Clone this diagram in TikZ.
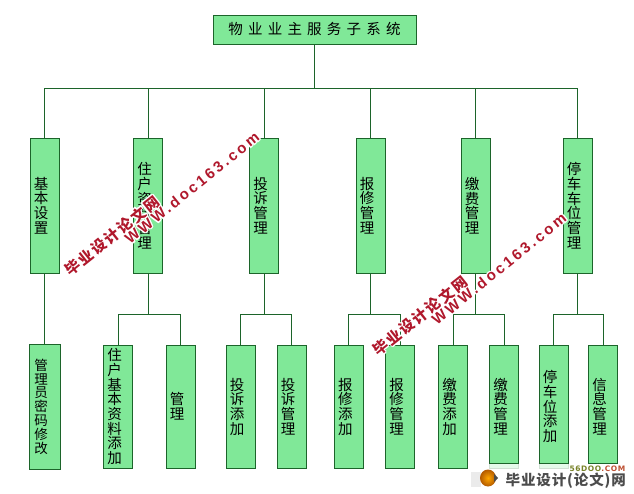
\documentclass[tikz,border=0pt]{standalone}
\usepackage{fontspec}
\setmainfont{Liberation Sans}
\newfontfamily\cjk{Noto Sans CJK SC}
\newfontfamily\cjktitle[LetterSpace=36]{Noto Sans CJK SC}
\newfontfamily\wmcjk[LetterSpace=12]{Noto Sans CJK SC}
\newfontfamily\wmlat[LetterSpace=18]{Liberation Sans}
\newfontfamily\logofont[LetterSpace=6]{Noto Sans CJK SC}
\newfontfamily\logolat[LetterSpace=8]{DejaVu Sans}
\definecolor{boxfill}{RGB}{128,232,152}
\definecolor{boxline}{RGB}{28,100,42}
\definecolor{wmred}{RGB}{176,24,44}
\definecolor{logogreen}{RGB}{120,130,40}
\definecolor{logored}{RGB}{190,80,50}
\newcommand{\hc}[3]{\rlap{\hspace{#1}\raisebox{#2}{\textcolor{white}{#3}}}}
\newcommand{\halo}[1]{\hc{-1.3pt}{0pt}{#1}\hc{1.3pt}{0pt}{#1}\hc{0pt}{1.3pt}{#1}\hc{0pt}{-1.3pt}{#1}\hc{-1pt}{-1pt}{#1}\hc{1pt}{1pt}{#1}\hc{-1pt}{1pt}{#1}\hc{1pt}{-1pt}{#1}\textcolor{wmred}{#1}}
\newcommand{\vtext}[1]{\kern-7pt\raisebox{1.5pt}{\vbox{\lineskiplimit=-100pt\halign{\hfil##\hfil\cr#1\cr}}}}
\tikzset{
  gbox/.style={draw=boxline,fill=boxfill,line width=0.9pt,inner sep=0pt,align=center,
     font=\cjk\fontsize{14.5}{14.7}\selectfont},
  lvtwo/.style={gbox,minimum width=29pt,minimum height=135pt},
  lvthree/.style={gbox,minimum width=29pt,minimum height=123pt},
  conn/.style={draw=boxline,line width=0.9pt},
  wmtxt/.style={inner sep=0pt},
}
\begin{document}
\begin{tikzpicture}[x=1pt,y=-1pt]
\useasboundingbox[fill=white] (0,0) rectangle (634,494);
\coordinate (bus) at (314.5,88);
\coordinate (s2) at (148,314.5);
\coordinate (s3) at (264,314.5);
\coordinate (s4) at (370.5,314.5);
\coordinate (s5) at (475.5,314.5);
\coordinate (s6) at (577.5,314.5);

\node[gbox,minimum width=203pt,minimum height=29pt,font=\cjktitle\fontsize{14.5}{15}\selectfont] (top) at (314.5,29.5) {\raisebox{1.5pt}{物业业主服务子系统}};

\node[lvtwo] (b1) at (44.5,206) {\vtext{基\cr 本\cr 设\cr 置}};
\node[lvtwo] (b2) at (148,206) {\vtext{住\cr 户\cr 资\cr 料\cr 管\cr 理}};
\node[lvtwo] (b3) at (264,206) {\vtext{投\cr 诉\cr 管\cr 理}};
\node[lvtwo] (b4) at (370.5,206) {\vtext{报\cr 修\cr 管\cr 理}};
\node[lvtwo] (b5) at (475.5,206) {\vtext{缴\cr 费\cr 管\cr 理}};
\node[lvtwo] (b6) at (577.5,206) {\vtext{停\cr 车\cr 车\cr 位\cr 管\cr 理}};

\node[lvthree,minimum width=31pt,minimum height=125pt,font=\cjk\fontsize{13.5}{13.8}\selectfont] (c1) at (44.5,406.8) {\vtext{管\cr 理\cr 员\cr 密\cr 码\cr 修\cr 改}};
\node[lvthree] (c2) at (118,406.8) {\vtext{住\cr 户\cr 基\cr 本\cr 资\cr 料\cr 添\cr 加}};
\node[lvthree] (c3) at (180.5,406.8) {\vtext{管\cr 理}};
\node[lvthree] (c4) at (240.5,406.8) {\vtext{投\cr 诉\cr 添\cr 加}};
\node[lvthree] (c5) at (291.5,406.8) {\vtext{投\cr 诉\cr 管\cr 理}};
\node[lvthree] (c6) at (348.8,406.8) {\vtext{报\cr 修\cr 添\cr 加}};
\node[lvthree] (c7) at (400,406.8) {\vtext{报\cr 修\cr 管\cr 理}};
\node[lvthree] (c8) at (453,406.8) {\vtext{缴\cr 费\cr 添\cr 加}};
\node[lvthree] (c9) at (504,406.8) {\vtext{缴\cr 费\cr 管\cr 理}};
\node[lvthree] (c10) at (553.5,406.8) {\vtext{停\cr 车\cr 位\cr 添\cr 加}};
\node[lvthree] (c11) at (603,406.8) {\vtext{信\cr 息\cr 管\cr 理}};

\draw[conn] (top.south) -- (bus);
\foreach \n in {b1,b2,b3,b4,b5,b6} \draw[conn] (\n.north) |- (bus);
\draw[conn] (b1.south) -- (c1.north);
\draw[conn] (b2.south) -- (s2);
\draw[conn] (c2.north) |- (s2);
\draw[conn] (c3.north) |- (s2);
\draw[conn] (b3.south) -- (s3);
\draw[conn] (c4.north) |- (s3);
\draw[conn] (c5.north) |- (s3);
\draw[conn] (b4.south) -- (s4);
\draw[conn] (c6.north) |- (s4);
\draw[conn] (c7.north) |- (s4);
\draw[conn] (b5.south) -- (s5);
\draw[conn] (c8.north) |- (s5);
\draw[conn] (c9.north) |- (s5);
\draw[conn] (b6.south) -- (s6);
\draw[conn] (c10.north) |- (s6);
\draw[conn] (c11.north) |- (s6);

% watermarks
\node[wmtxt,rotate=38.5,font=\wmcjk\bfseries\fontsize{15}{16}\selectfont] (w1) at (112,236) {\halo{毕业设计论文网}};
\node[wmtxt,rotate=39,font=\wmlat\bfseries\fontsize{15}{16}\selectfont] (w2) at (192,188) {\halo{WWW.doc163.com}};
\node[wmtxt,rotate=38.5,font=\wmcjk\bfseries\fontsize{15}{16}\selectfont] (w3) at (420,316) {\halo{毕业设计论文网}};
\node[wmtxt,rotate=39,font=\wmlat\bfseries\fontsize{15}{16}\selectfont] (w4) at (499,269) {\halo{WWW.doc163.com}};

% bottom logo
\fill[white,opacity=0.8] (487,463.5) rectangle (572,470);
\fill[white] (585,463.5) rectangle (620,470);
\draw[conn] (c9.west |- 0,463.3) -- (c9.east |- 0,463.3);
\draw[conn] (c10.west |- 0,463.3) -- (c10.east |- 0,463.3);
\draw[conn] (c11.west |- 0,463.3) -- (c11.east |- 0,463.3);
\fill[black!8] (471,472) rectangle (481,487);
\shade[inner color=orange!70!yellow,outer color=orange!70!black] (488,478) ellipse (8pt and 8.5pt);
\fill[black!70] (498,478) -- (494,474) -- (494,482) -- cycle;
\node[inner sep=0pt,anchor=east,font=\logolat\bfseries\fontsize{7.5}{8}\selectfont] (logotop) at (625.5,468.5) {\textcolor{logogreen}{56DOO}\textcolor{logored}{.COM}};
\node[inner sep=0pt,anchor=east,font=\logofont\bfseries\fontsize{14.5}{15}\selectfont,text=black!70] (logomain) at (626,481) {毕业设计(论文)网};
\end{tikzpicture}
\end{document}
